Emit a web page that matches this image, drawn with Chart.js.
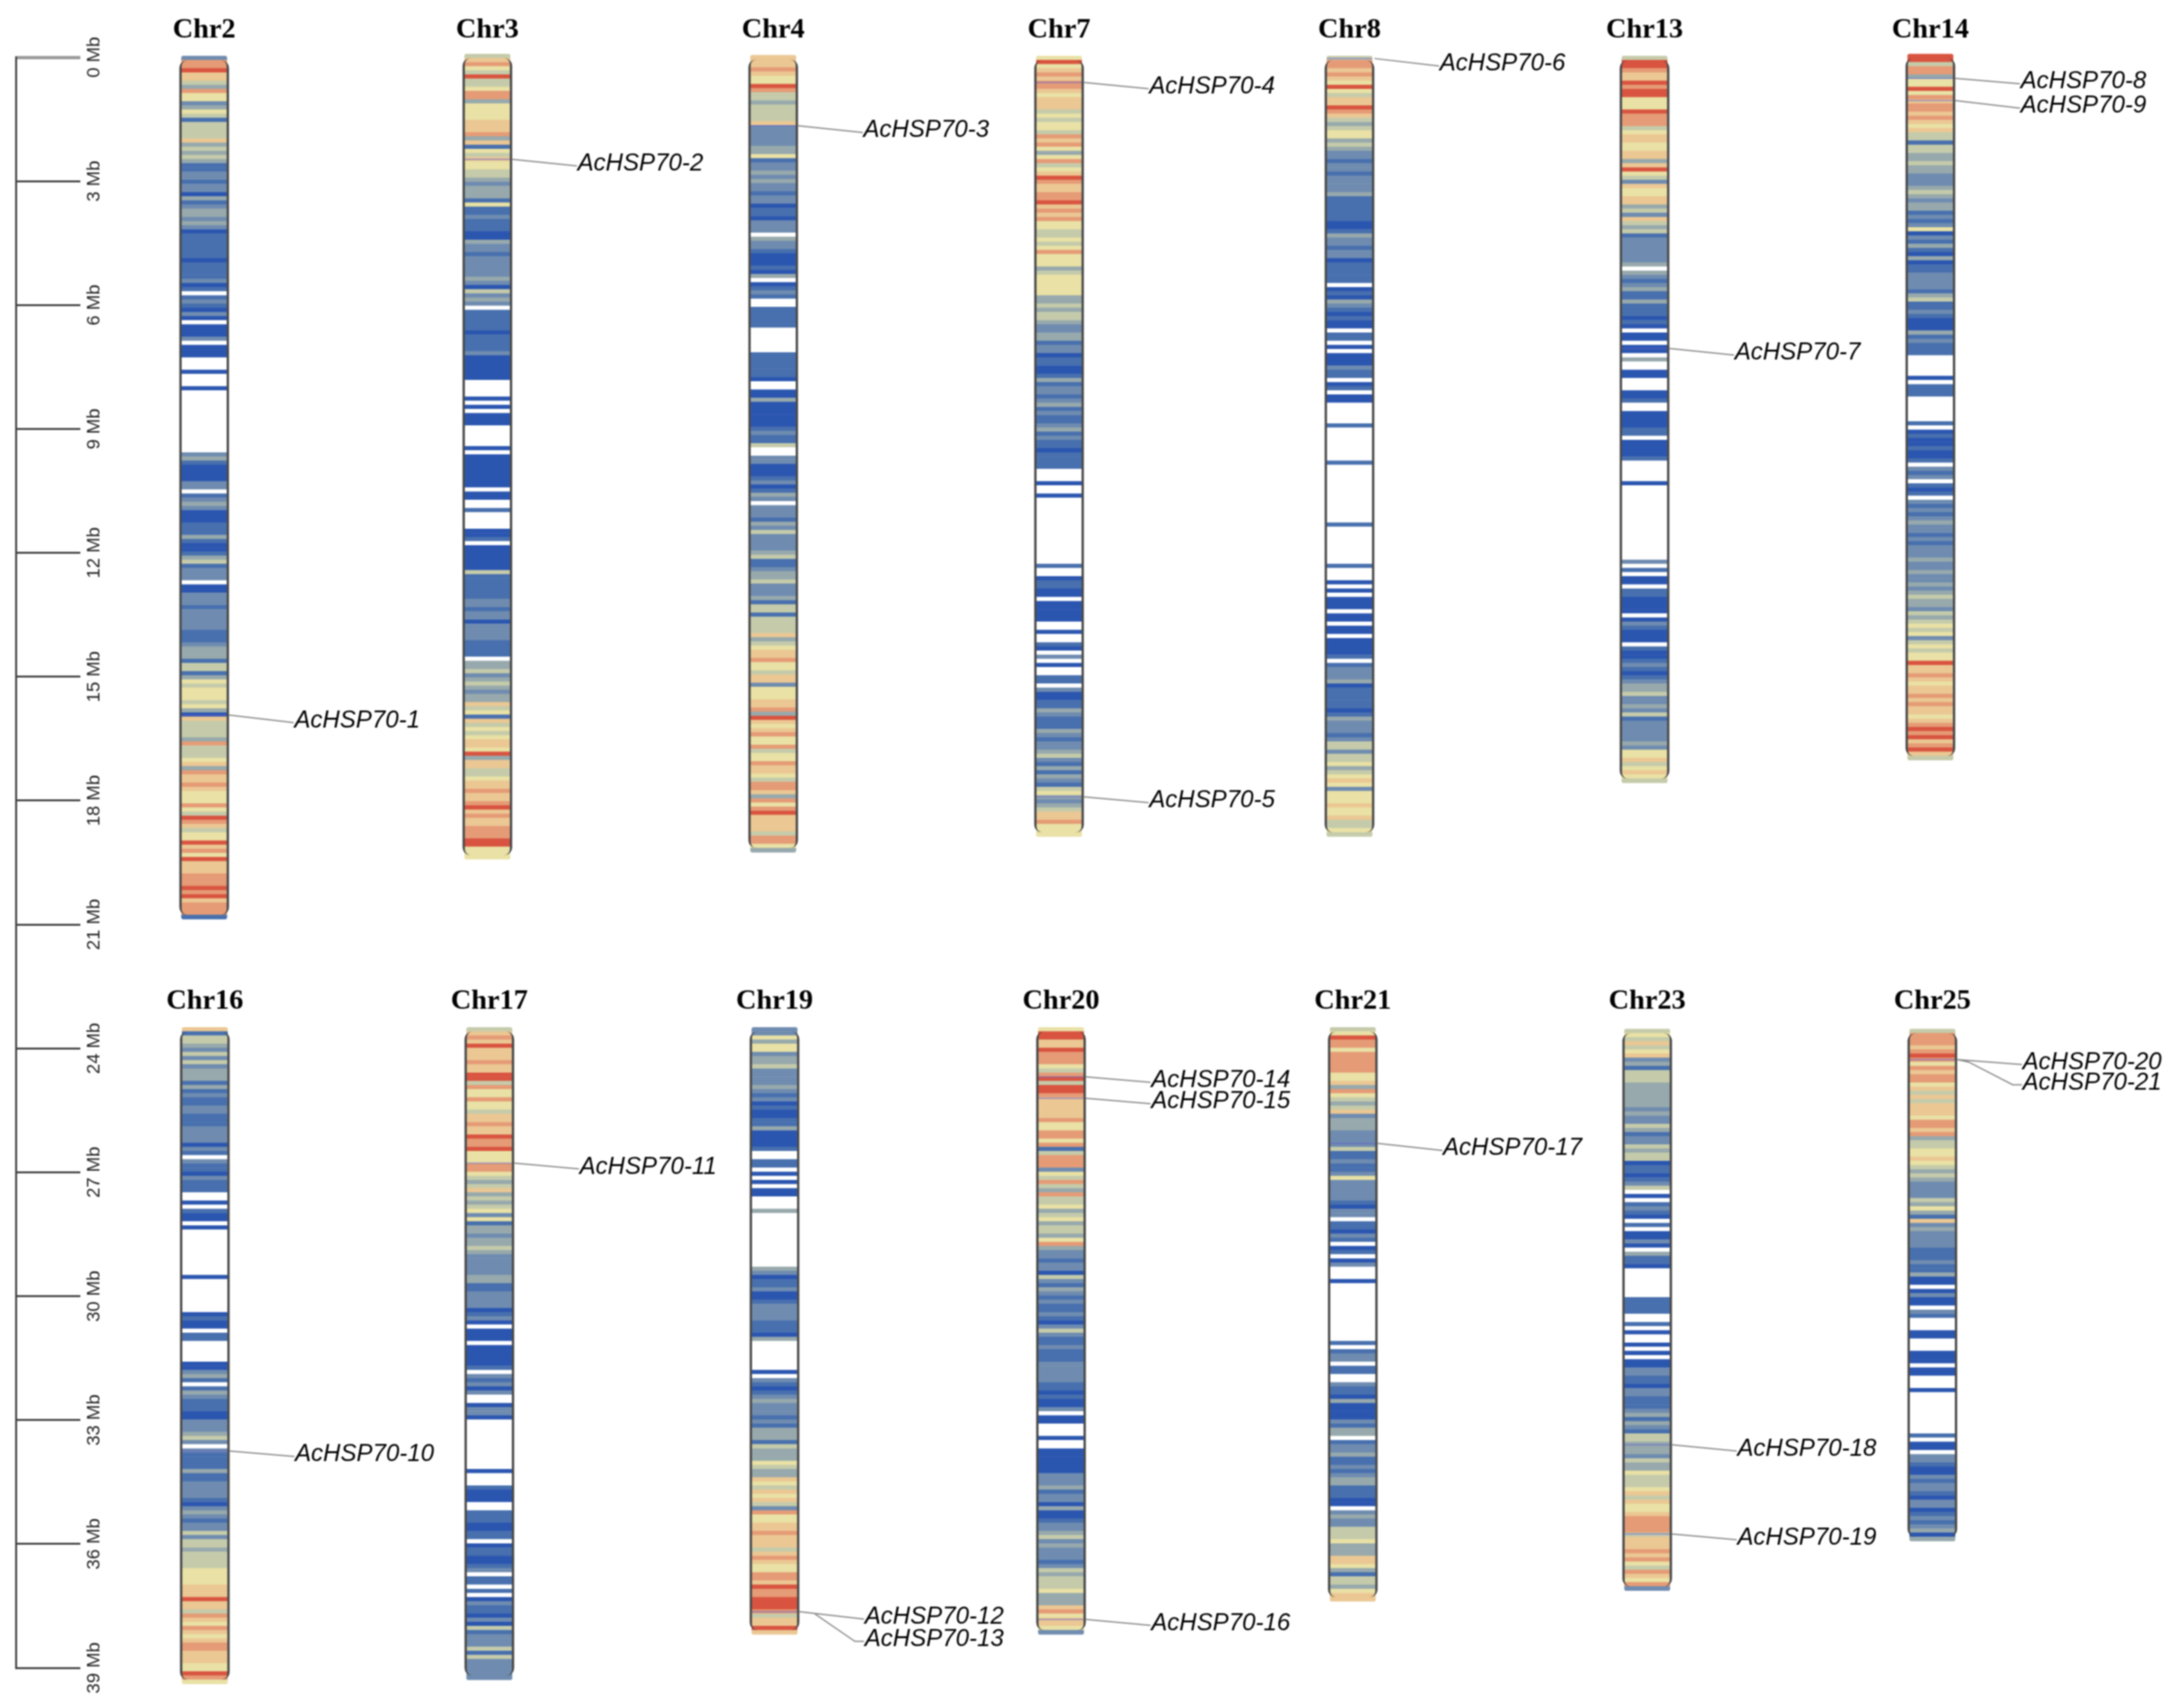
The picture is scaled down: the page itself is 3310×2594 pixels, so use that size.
<!DOCTYPE html>
<html>
<head>
<meta charset="utf-8">
<title>AcHSP70 chromosome map</title>
<script src="https://cdn.jsdelivr.net/npm/chart.js@4"></script>
<style>
  html, body { margin: 0; padding: 0; background: #fff; }
  canvas { display: block; filter: blur(1.2px); }
</style>
</head>
<body>
<canvas id="map" width="3310" height="2594"></canvas>
<script>
/* ── DATA ─────────────────────────────────────────────────────────────────── */

// gene density class per 0.1 Mb bin (0 = no genes, 9 = densest)
const chr2Bins = [3,8,8,9,7,7,5,4,8,6,6,3,4,6,5,2,5,5,5,5,7,4,5,4,5,4,2,2,3,3,2,3,3,1,4,2,3,4,4,3,4,3,1,2,2,2,2,2,2,1,2,2,2,2,3,1,2,0,2,3,2,1,3,1,0,1,1,1,3,0,1,1,1,0,0,0,1,0,0,0,1,0,0,0,0,0,0,0,0,0,0,0,0,0,0,0,3,4,2,1,1,1,1,3,3,0,2,3,4,3,1,1,1,2,2,2,4,2,1,1,2,4,5,2,3,3,3,0,1,1,3,3,3,2,3,3,3,3,3,2,2,2,3,4,4,4,2,5,5,2,4,6,5,6,6,6,5,6,4,1,7,5,5,5,5,4,8,5,5,5,6,7,4,8,7,7,8,7,6,6,6,8,6,5,9,8,7,5,6,6,9,7,8,6,9,7,7,7,8,8,8,9,8,9,7,8,8,8,2];
const chr3Bins = [5,7,8,6,5,9,5,5,6,8,8,4,6,6,6,6,7,7,7,8,4,7,2,6,5,7,6,6,5,5,4,3,4,4,4,2,6,2,2,3,2,2,2,1,1,4,3,3,2,3,3,3,3,3,4,3,1,5,3,4,3,0,2,2,2,2,2,1,2,2,2,2,3,1,1,1,1,1,1,0,0,0,0,1,0,1,0,1,1,1,0,0,0,0,0,1,0,1,1,1,1,1,1,1,1,0,1,1,0,0,2,0,0,0,0,1,1,2,0,1,1,1,1,1,1,5,2,2,2,2,2,2,3,3,2,3,3,1,3,3,3,3,2,2,2,2,0,4,4,5,3,4,5,4,3,4,4,7,5,6,2,7,5,6,5,6,7,7,6,9,4,7,7,5,5,6,7,7,8,7,7,8,9,7,8,7,7,8,8,8,9,9,6,6,6];
const chr4Bins = [7,7,7,8,7,6,6,9,8,5,5,4,5,5,5,5,7,3,3,3,3,3,4,4,6,2,3,3,4,3,4,3,3,2,3,3,1,2,2,1,3,3,3,0,4,3,3,2,1,1,1,2,1,4,0,1,2,3,2,0,0,2,2,2,2,2,0,0,0,0,0,0,2,2,2,2,2,2,1,0,0,1,1,4,1,1,1,1,1,1,2,3,2,2,5,0,0,3,3,1,1,1,2,3,1,2,4,3,0,3,3,3,2,4,3,5,3,3,3,3,4,5,2,2,3,4,4,5,3,3,3,4,2,5,5,2,5,5,5,5,7,4,5,6,7,7,8,6,6,5,7,7,3,6,6,6,7,7,8,4,9,7,6,7,8,6,6,8,5,6,6,8,7,7,6,5,8,8,7,4,8,6,8,9,7,7,7,7,5,8,8,6,4];
const chr7Bins = [6,9,6,7,8,7,8,8,7,6,7,7,7,5,6,5,6,6,5,8,7,8,6,4,6,8,5,6,7,9,8,7,7,8,8,9,7,8,7,8,6,6,5,5,6,5,6,8,6,6,6,4,5,6,6,6,6,6,4,4,5,4,5,5,4,3,3,4,4,2,3,3,1,2,2,1,1,2,4,2,3,3,2,3,4,2,3,2,2,3,4,2,3,2,2,1,2,2,2,2,0,0,0,1,0,0,1,0,0,0,0,0,0,0,0,0,0,0,0,0,0,0,0,2,0,0,1,2,2,1,1,0,1,1,1,1,1,0,0,1,0,0,2,1,0,3,0,1,0,0,2,2,0,3,1,1,2,2,4,3,2,2,2,4,3,2,3,3,4,5,3,2,4,2,4,3,2,5,6,4,3,4,5,7,7,8,6,6,6];
const chr8Bins = [5,8,8,7,8,7,6,9,6,5,7,7,9,8,7,5,4,5,6,6,4,5,4,3,3,2,3,3,2,3,3,3,3,4,2,2,2,2,2,2,1,1,2,4,3,3,2,3,3,1,2,2,2,2,2,0,1,2,1,4,3,2,1,2,1,1,0,2,2,0,1,0,1,1,1,3,2,2,0,1,2,0,1,1,0,0,0,0,0,2,0,0,0,0,0,0,0,0,2,0,0,0,0,0,0,0,0,0,0,0,0,0,0,2,0,0,0,0,0,0,0,0,0,2,0,0,0,1,0,1,0,1,1,1,0,1,1,0,1,1,0,1,1,1,1,2,0,2,3,3,3,4,1,2,2,2,2,2,1,2,4,3,3,3,2,3,5,5,3,5,5,6,4,5,6,7,6,3,6,6,6,7,6,6,7,5,5,6,5];
const chr13Bins = [5,9,9,8,7,7,9,8,9,9,6,6,6,9,8,8,8,5,6,7,7,6,6,7,7,4,7,9,6,5,3,7,6,6,7,7,4,5,3,7,5,4,5,2,3,3,3,3,3,3,4,0,4,3,2,3,4,2,2,4,2,2,2,1,2,1,0,1,1,0,1,1,0,4,0,0,1,1,0,0,0,1,1,2,0,0,1,1,1,1,2,2,0,1,1,1,1,2,0,0,0,0,0,1,0,0,0,0,0,0,0,0,0,0,0,0,0,0,0,0,0,0,3,0,2,0,1,1,0,2,2,1,1,1,1,0,1,3,2,1,1,1,0,2,1,1,2,3,2,1,2,3,4,4,5,3,3,4,3,5,2,3,3,3,3,3,4,3,6,6,7,5,6,7,6,5];
const chr14Bins = [9,9,5,8,8,4,6,6,9,6,8,7,8,8,7,8,7,6,7,5,5,2,5,5,4,4,5,4,4,3,3,3,4,5,4,3,4,4,2,3,2,3,6,1,3,2,4,2,1,4,1,2,2,3,3,3,3,2,4,5,2,2,3,2,1,1,1,4,2,3,2,2,2,0,0,0,0,0,1,0,2,2,2,0,0,0,0,0,0,2,0,1,2,1,1,2,1,1,2,0,3,2,3,0,2,1,2,0,3,2,3,2,3,4,3,3,2,3,2,3,3,3,4,3,3,4,3,3,4,3,4,5,4,4,3,5,4,5,6,5,6,3,5,6,5,6,6,9,7,7,8,7,6,7,7,8,7,8,7,7,6,7,8,9,8,9,7,8,9,7,5];
const chr16Bins = [7,2,5,5,4,3,5,3,5,3,4,4,4,2,4,2,3,2,2,3,3,2,2,2,3,3,3,3,1,3,2,0,3,2,2,1,3,2,2,2,0,0,1,0,2,1,1,0,1,0,0,0,0,0,0,0,0,0,0,0,1,0,0,0,0,0,0,0,0,1,2,1,1,0,2,2,0,0,0,0,0,1,1,3,4,2,0,2,4,3,2,2,2,1,1,3,3,3,4,5,3,0,3,2,2,2,2,4,2,2,3,3,3,3,2,1,3,4,3,2,3,3,5,3,5,5,4,5,5,5,5,6,6,6,6,7,7,7,9,7,7,5,8,7,6,8,7,6,7,8,8,7,7,7,6,6,9,8,6];
const chr17Bins = [5,7,8,7,9,7,7,7,8,7,7,9,9,5,8,6,6,8,6,6,5,7,7,8,7,7,9,8,8,9,6,6,6,8,8,6,5,4,5,7,4,5,4,5,6,3,6,2,4,4,3,4,4,5,4,3,3,3,3,3,4,4,2,2,3,3,3,3,1,2,3,1,0,1,1,1,0,1,1,1,1,1,2,0,3,2,3,1,3,0,0,1,3,3,1,0,0,0,0,0,0,0,0,0,0,0,0,1,0,0,0,2,1,1,1,0,0,2,2,2,1,1,2,2,0,1,2,2,1,1,2,3,0,2,2,0,2,0,1,3,2,2,1,3,1,5,2,3,3,3,5,2,5,3,3,3,3,3];
const chr19Bins = [3,3,6,4,6,6,3,4,4,5,3,3,3,3,4,3,2,3,1,2,1,1,2,2,4,1,1,1,1,2,0,0,2,2,0,1,0,1,0,1,1,0,0,0,4,0,0,0,0,0,0,0,0,0,0,0,0,0,4,3,1,2,2,3,1,1,2,3,3,3,3,2,2,2,1,4,0,0,0,0,0,0,0,1,0,3,2,1,2,3,4,3,3,3,2,3,2,4,4,4,2,5,4,4,4,6,5,4,4,7,6,5,7,6,7,5,3,8,6,6,7,7,8,7,7,7,5,7,8,7,6,6,8,8,7,9,8,8,9,9,9,8,5,7,7,9,7];
const chr20Bins = [6,9,9,7,7,9,8,8,8,6,5,8,9,5,9,9,8,7,7,7,7,7,8,6,6,8,8,6,8,2,5,8,8,8,3,6,5,8,5,4,8,5,5,6,4,5,6,4,5,5,4,6,8,4,3,3,2,3,3,1,5,3,2,4,3,2,3,2,2,3,2,1,3,5,3,2,2,3,2,2,2,3,3,3,3,3,2,2,1,2,1,1,3,0,1,1,0,0,0,1,0,0,1,1,1,1,1,1,3,3,3,4,2,3,3,1,4,1,1,2,3,3,4,5,3,4,3,3,3,2,3,5,4,5,5,5,6,4,4,4,7,8,6,7,7,6,3];
const chr21Bins = [5,6,9,8,8,6,8,8,8,8,8,6,6,7,4,8,6,5,4,5,7,3,4,4,4,3,3,3,3,5,2,2,3,2,2,3,6,3,3,3,3,3,2,1,3,3,0,2,2,1,3,2,0,1,2,0,1,3,0,0,0,1,0,0,0,0,0,0,0,0,0,0,0,0,0,0,2,0,2,3,3,0,2,2,0,0,3,2,2,1,4,1,1,1,1,3,2,4,4,0,2,3,3,4,2,2,3,2,3,4,4,2,2,2,1,1,0,3,4,3,3,5,5,5,6,4,4,4,7,7,6,4,2,5,5,4,6,7,7];
const chr23Bins = [5,6,5,7,5,6,7,3,4,2,5,5,5,4,4,4,4,4,4,3,4,3,3,5,4,2,3,3,5,4,5,5,1,2,2,1,2,3,5,0,1,0,2,3,2,1,0,2,0,1,1,3,1,0,4,2,2,1,0,0,0,0,0,0,0,2,2,2,2,0,0,2,0,1,0,0,1,0,1,0,1,1,3,3,2,2,1,3,3,2,2,2,3,4,2,4,3,2,5,5,4,4,4,3,5,4,4,6,5,5,5,6,7,5,7,6,6,7,8,8,8,8,5,7,7,7,8,7,8,6,5,8,7,6,8,3];
const chr25Bins = [5,8,8,8,7,8,9,8,6,8,7,8,8,6,7,5,7,5,7,7,7,6,8,8,7,8,4,5,5,6,6,7,6,5,4,5,4,3,3,3,3,5,4,6,4,2,7,3,4,3,3,3,3,2,2,2,3,2,2,4,1,1,0,1,3,1,1,0,3,2,0,0,0,1,1,0,0,0,1,1,1,0,1,1,0,0,0,1,0,0,0,0,0,0,0,0,0,0,2,0,1,1,0,3,3,2,1,1,3,2,3,3,2,1,3,3,1,2,3,2,3,4,1,4];

const chrNames = ['Chr2', 'Chr3', 'Chr4', 'Chr7', 'Chr8', 'Chr13', 'Chr14', 'Chr16', 'Chr17', 'Chr19', 'Chr20', 'Chr21', 'Chr23', 'Chr25'];
const chrBins = [chr2Bins, chr3Bins, chr4Bins, chr7Bins, chr8Bins, chr13Bins, chr14Bins, chr16Bins, chr17Bins, chr19Bins, chr20Bins, chr21Bins, chr23Bins, chr25Bins];
const chrStartMb = [-0.03, -0.08, -0.05, -0.03, -0.03, -0.03, -0.08, 23.49, 23.49, 23.49, 23.49, 23.49, 23.53, 23.53];

const geneNames = ['AcHSP70-1', 'AcHSP70-2', 'AcHSP70-3', 'AcHSP70-4', 'AcHSP70-5', 'AcHSP70-6', 'AcHSP70-7', 'AcHSP70-8', 'AcHSP70-9', 'AcHSP70-10', 'AcHSP70-11', 'AcHSP70-12', 'AcHSP70-13', 'AcHSP70-14', 'AcHSP70-15', 'AcHSP70-16', 'AcHSP70-17', 'AcHSP70-18', 'AcHSP70-19', 'AcHSP70-20', 'AcHSP70-21'];
const geneChr = ['Chr2', 'Chr3', 'Chr4', 'Chr7', 'Chr7', 'Chr8', 'Chr13', 'Chr14', 'Chr14', 'Chr16', 'Chr17', 'Chr19', 'Chr19', 'Chr20', 'Chr20', 'Chr20', 'Chr21', 'Chr23', 'Chr23', 'Chr25', 'Chr25'];
const geneMb = [15.93, 2.47, 1.66, 0.61, 17.91, 0.03, 7.05, 0.51, 1.05, 33.75, 26.78, 37.64, 37.64, 24.69, 25.21, 37.83, 26.30, 33.60, 35.76, 24.27, 24.27];
const geneLabelMb = [16.11, 2.63, 1.82, 0.76, 18.05, 0.21, 7.21, 0.64, 1.23, 33.88, 26.92, 37.82, 38.36, 24.82, 25.34, 37.97, 26.47, 33.75, 35.90, 24.39, 24.88];

const axisTicks = [0, 3, 6, 9, 12, 15, 18, 21, 24, 27, 30, 33, 36, 39];

/* ── LAYOUT AND STYLE ─────────────────────────────────────────────────────── */

const BIN_MB = 0.1;
const chrColumns = [310, 740, 1174, 1608, 2049, 2497, 2931, 311, 743, 1176, 1611, 2054, 2501, 2934];
const TITLE_MB = [-0.66, 22.87];           // heading height of the two rows
const LEAD_FROM = 38, LEAD_TO = 136;       // leader line, offset from column centre
const MARK_HALF = 34;

// leaders that kink on the way to their label: [offset, Mb]
const leaderBends = {
  'AcHSP70-13': [[60, 37.68], [122, 38.36]],
  'AcHSP70-21': [[55, 24.33], [122, 24.88]],
};

const LEVEL_COLOURS = ['#ffffff', '#2b56b0', '#4870ae', '#6f8cb0', '#97a9ac', '#c5cbaa', '#e9e1a5', '#ebc793', '#e59b76', '#d95440'];

/* ── DATASETS ─────────────────────────────────────────────────────────────── */

const bands = [];
const outlines = [];
chrNames.forEach((name, c) => {
  const bins = chrBins[c];
  const start = chrStartMb[c];
  bins.forEach((level, i) => {
    bands.push({
      x: chrColumns[c],
      y: [start + i * BIN_MB, start + (i + 1) * BIN_MB],
      level,
      cap: i === 0 ? 'top' : (i === bins.length - 1 ? 'bottom' : null),
    });
  });
  outlines.push({ x: chrColumns[c], y: [start + 0.1, start + bins.length * BIN_MB - 0.1] });
});

const leaders = [];
const marks = [];
geneNames.forEach((gene, g) => {
  const col = chrColumns[chrNames.indexOf(geneChr[g])];
  leaders.push({ x: col + LEAD_FROM, y: geneMb[g] });
  (leaderBends[gene] || []).forEach(([dx, mb]) => leaders.push({ x: col + dx, y: mb }));
  leaders.push({ x: col + LEAD_TO, y: geneLabelMb[g] });
  leaders.push({ x: null, y: null });
  marks.push({ x: col - MARK_HALF, y: geneMb[g] }, { x: col + MARK_HALF, y: geneMb[g] }, { x: null, y: null });
});

/* ── TEXT ─────────────────────────────────────────────────────────────────── */

const mapText = {
  id: 'mapText',
  afterDraw(chart) {
    const { ctx, scales: { x, y } } = chart;
    ctx.save();
    ctx.fillStyle = '#000';
    ctx.textBaseline = 'middle';

    ctx.textAlign = 'center';
    ctx.font = 'bold 43px "Liberation Serif"';
    chrNames.forEach((name, c) => {
      ctx.fillText(name, x.getPixelForValue(chrColumns[c]), y.getPixelForValue(TITLE_MB[c < 7 ? 0 : 1]));
    });

    ctx.textAlign = 'left';
    ctx.font = 'italic 36.5px "Liberation Sans"';
    geneNames.forEach((gene, g) => {
      const col = chrColumns[chrNames.indexOf(geneChr[g])];
      ctx.fillText(gene, x.getPixelForValue(col + LEAD_TO + 1), y.getPixelForValue(geneLabelMb[g]) - 3);
    });
    ctx.restore();
  },
};

/* ── CHART ────────────────────────────────────────────────────────────────── */

new Chart(document.getElementById('map'), {
  type: 'bar',
  plugins: [mapText],
  data: {
    datasets: [
      {
        type: 'line',
        data: leaders,
        borderColor: '#8c8c8c',
        borderWidth: 2,
        pointRadius: 0,
        spanGaps: false,
        clip: false,
        order: 0,
      },
      {
        type: 'line',
        data: marks,
        borderColor: 'rgba(96,96,205,0.55)',
        borderWidth: 2,
        pointRadius: 0,
        spanGaps: false,
        clip: false,
        order: 1,
      },
      {
        data: outlines,
        grouped: false,
        barThickness: 75,
        backgroundColor: 'rgba(0,0,0,0)',
        borderColor: '#474747',
        borderWidth: { left: 3, right: 3, top: 0, bottom: 0 },
        borderSkipped: false,
        borderRadius: 12,
        clip: false,
        order: 2,
      },
      {
        data: bands,
        grouped: false,
        barThickness: 69,
        backgroundColor: ctx => LEVEL_COLOURS[ctx.raw.level],
        borderWidth: 0,
        borderSkipped: false,
        borderRadius: ctx => {
          if (ctx.raw.cap === 'top') return { topLeft: 10, topRight: 10, bottomLeft: 0, bottomRight: 0 };
          if (ctx.raw.cap === 'bottom') return { topLeft: 0, topRight: 0, bottomLeft: 10, bottomRight: 10 };
          return 0;
        },
        clip: false,
        order: 3,
      },
    ],
  },
  options: {
    responsive: false,
    devicePixelRatio: 1,
    animation: false,
    events: [],
    layout: { padding: { top: 87, bottom: 61, left: 0, right: 0 } },
    plugins: { legend: { display: false }, tooltip: { enabled: false } },
    scales: {
      x: { type: 'linear', min: 24, max: 3310, offset: false, display: false },
      y: {
        type: 'linear',
        position: 'left',
        reverse: true,
        min: 0,
        max: 39,
        afterBuildTicks: scale => { scale.ticks = axisTicks.map(value => ({ value })); },
        afterFit: scale => {
          scale.width = 24;
          scale.paddingTop = 0;
          scale.paddingBottom = 0;
        },
        border: { display: true, color: '#444444', width: 3 },
        grid: {
          drawOnChartArea: false,
          tickLength: -98,
          tickColor: ctx => (ctx.index === 0 ? '#9a9a9a' : '#444444'),
          tickWidth: ctx => (ctx.index === 0 ? 5 : 3),
        },
        ticks: {
          autoSkip: false,
          mirror: true,
          minRotation: 90,
          maxRotation: 90,
          crossAlign: 'center',
          padding: 80,
          color: '#222222',
          font: { family: '"Liberation Sans"', size: 28 },
          callback: v => v + ' Mb',
        },
      },
    },
  },
});
</script>
</body>
</html>
